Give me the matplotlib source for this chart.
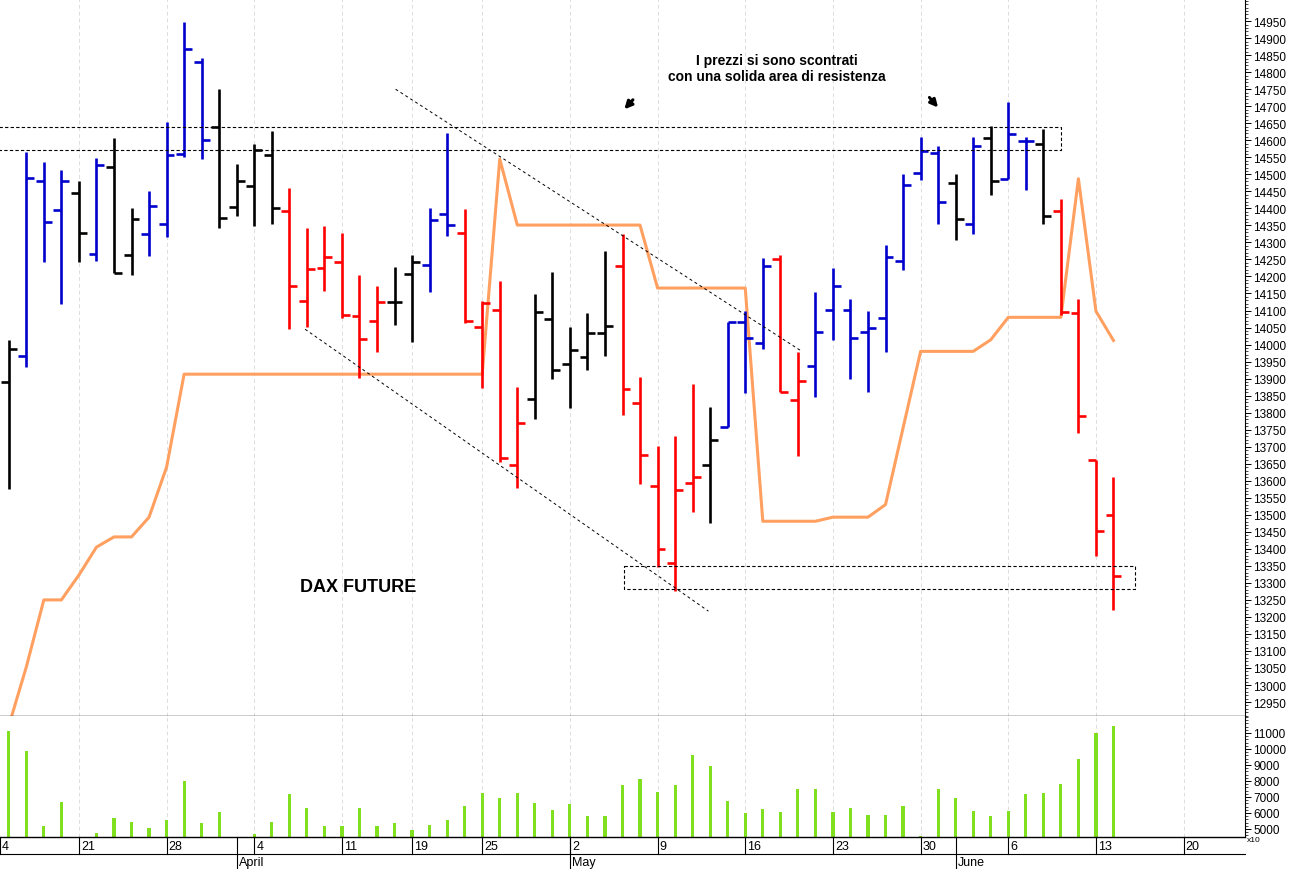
import matplotlib
matplotlib.use("Agg")
import matplotlib.pyplot as plt
from matplotlib.ticker import MultipleLocator
import numpy as np

opens = [13890,13966,14480,14395,14445,14266,14521,14263,14324,14354,14559,14829,14639,14404,14465,14556,
         14392,14128,14225,14242,14084,14069,14125,14207,14233,14383,14327,14051,14101,13646,13840,14075,
         13943,13963,14034,14230,13828,13584,13358,13593,13646,13758,14066,14004,14251,13837,13937,14101,
         14101,14037,14079,14245,14505,14564,14474,14354,14606,14485,14598,14589,14392,14093,13660,13499]
highs = [14013,14565,14536,14512,14480,14548,14606,14401,14451,14653,14947,14841,14750,14530,14589,14627,
         14459,14342,14348,14327,14204,14172,14228,14263,14401,14621,14398,14128,14186,13875,14148,14213,
         14051,14092,14275,14324,13904,13702,13731,13884,13816,14066,14098,14254,14263,13978,14154,14225,
         14133,14098,14293,14500,14610,14582,14500,14610,14643,14713,14610,14634,14428,14133,13662,13611]
lows = [13576,13934,14242,14119,14242,14245,14210,14204,14260,14316,14550,14545,14342,14377,14348,14354,
        14045,14051,14157,14078,13901,13978,14057,14007,14154,14319,14063,13872,13655,13578,13781,13899,
        13813,13925,13966,13793,13590,13346,13276,13508,13476,13758,13857,13987,13860,13672,13846,14013,
        13899,13860,13977,14219,14482,14353,14306,14326,14438,14485,14453,14353,14088,13741,13380,13220]
closes = [13987,14489,14360,14480,14327,14527,14210,14368,14407,14556,14868,14600,14371,14480,14571,14401,
          14172,14222,14257,14087,14016,14125,14125,14242,14366,14351,14069,14122,13667,13769,14095,13925,
          13984,14034,14054,13869,13675,13399,13573,13611,13719,14066,14019,14230,13860,13893,14037,14172,
          14019,14049,14256,14469,14568,14419,14368,14582,14480,14619,14598,14377,14096,13791,13453,13320]
bar_colors = list("kbbbkbkkbbbbkkkkrrrrrrkkbbrrrrkkkkkrrrrrkbbbrrbbbbbbbbkbkbbkrrrr")
indicator = [12880,13053,13250,13250,13323,13405,13435,13435,13493,13640,13913,13913,13913,13913,13913,13913,
             13913,13913,13913,13913,13913,13913,13913,13913,13913,13913,13913,13913,14545,14351,14351,14351,
             14351,14351,14351,14351,14351,14166,14166,14166,14166,14166,14166,13481,13481,13481,13481,13493,
             13493,13493,13530,13755,13980,13980,13980,13980,14014,14080,14080,14080,14080,14487,14098,14012]
volume = [11150,9870,5170,6670,4480,4750,5670,5420,5040,5560,8030,5350,6090,4450,4690,5420,
          7200,6320,5170,5170,6300,5210,5380,4960,5250,5560,6460,7260,6920,7260,6610,6190,
          6550,5840,5840,7760,8140,7340,7760,9600,8910,6720,5980,6250,6090,7510,7470,6090,
          6320,5880,5880,6460,4540,7510,6950,6150,5840,6150,7200,7260,7800,9350,11020,11440]
day_ticks = [-0.5,4,9,14,19,23,27,32,37,42,47,52,57,62,67]
day_labels = ["4","21","28","4","11","19","25","2","9","16","23","30","6","13","20"]
month_pos = [13,32,54]
month_labels = ["April","May","June"]

cmap = {"k": "#000000", "b": "#0000cc", "r": "#ff0000"}
W, H = 1294, 870
fig = plt.figure(figsize=(W/100, H/100), dpi=100)
plt.rcParams['font.family'] = ['Liberation Sans', 'DejaVu Sans']

xl = (-0.5, 70.5)
ax = fig.add_axes([0, (H-717)/H, 1245/W, 717/H])
axv = fig.add_axes([0, (H-838)/H, 1245/W, (838-717)/H])

x = np.arange(len(opens))
tk = 0.45
for i in x:
    c = cmap[bar_colors[i]]
    ax.plot([i, i], [lows[i], highs[i]], color=c, lw=1.9, solid_capstyle='butt')
    ax.plot([i-tk, i], [opens[i], opens[i]], color=c, lw=1.9, solid_capstyle='butt')
    ax.plot([i, i+tk], [closes[i], closes[i]], color=c, lw=1.9, solid_capstyle='butt')
ax.plot(x, indicator, color="#ffa060", lw=2.2, zorder=1)

# dashed boxes and trend lines
ax.plot([-0.6, 60.0, 60.0, -0.6], [14639, 14639, 14571, 14571], 'k--', lw=0.8, dashes=(3, 2))
ax.plot([35.1, 64.2, 64.2, 35.1, 35.1], [13349, 13349, 13282, 13282, 13349], 'k--', lw=0.8, dashes=(3, 2))
ax.plot([22.06, 45.2], [14750, 13981], 'k--', lw=0.7, dashes=(3, 3))
ax.plot([16.9, 39.9], [14045, 13217], 'k--', lw=0.7, dashes=(3, 3))

ax.text(43.8, 14812, "I prezzi si sono scontrati\ncon una solida area di resistenza",
        ha='center', va='center', fontsize=10, fontweight='bold', linespacing=1.15)
ax.annotate("", xy=(35.0, 14685), xytext=(35.7, 14725),
            arrowprops=dict(arrowstyle='-|>', color='k', lw=2.2, mutation_scale=11))
ax.annotate("", xy=(53.1, 14690), xytext=(52.4, 14732),
            arrowprops=dict(arrowstyle='-|>', color='k', lw=2.2, mutation_scale=11))
ax.text(19.9, 13288, "DAX FUTURE", ha='center', va='center', fontsize=13, fontweight='bold')

for a in (ax, axv):
    a.set_xlim(*xl)
    for t in day_ticks[1:]:
        a.axvline(t, color='#dddddd', lw=0.7, ls=(0, (4, 3)), zorder=0)
    a.set_xticks([])
    a.yaxis.tick_right()
    for s in ['left', 'top']:
        a.spines[s].set_visible(False)
    a.spines['right'].set_linewidth(0.8)
    a.tick_params(axis='y', labelsize=8.5, length=4, width=0.7, pad=2)
    a.tick_params(axis='y', which='minor', length=2.5, width=0.5)

ax.set_ylim(12909, 15015)
ax.yaxis.set_minor_locator(MultipleLocator(10))
ax.set_yticks(np.arange(12950, 15000, 50))
ax.spines['bottom'].set_linewidth(1.0)

axv.bar(x, volume, width=0.18, color="#80e020", bottom=0)
axv.set_ylim(4500, 12060)
axv.set_yticks(np.arange(5000, 12000, 1000))
axv.yaxis.set_minor_locator(MultipleLocator(200))
axv.spines['bottom'].set_linewidth(1.0)
fig.text(1247/W, (H-841)/H, "x10", fontsize=6, va='center')

# date axis
def fx(i):
    return (i - xl[0]) / (xl[1] - xl[0]) * 1245 / W
for t, l in zip(day_ticks, day_labels):
    fig.add_artist(plt.Line2D([fx(t), fx(t)], [(H-838)/H, (H-855)/H], color='k', lw=0.8))
    fig.text(fx(t) + 2/W, (H-847)/H, l, fontsize=9, va='center', ha='left')
fig.add_artist(plt.Line2D([0, 1245/W], [(H-855)/H, (H-855)/H], color='k', lw=0.8))
for t, l in zip(month_pos, month_labels):
    fig.add_artist(plt.Line2D([fx(t), fx(t)], [(H-838)/H, 0], color='k', lw=0.8))
    fig.text(fx(t) + 2/W, (H-863)/H, l, fontsize=9, va='center', ha='left')

fig.savefig("out.png", dpi=100)
